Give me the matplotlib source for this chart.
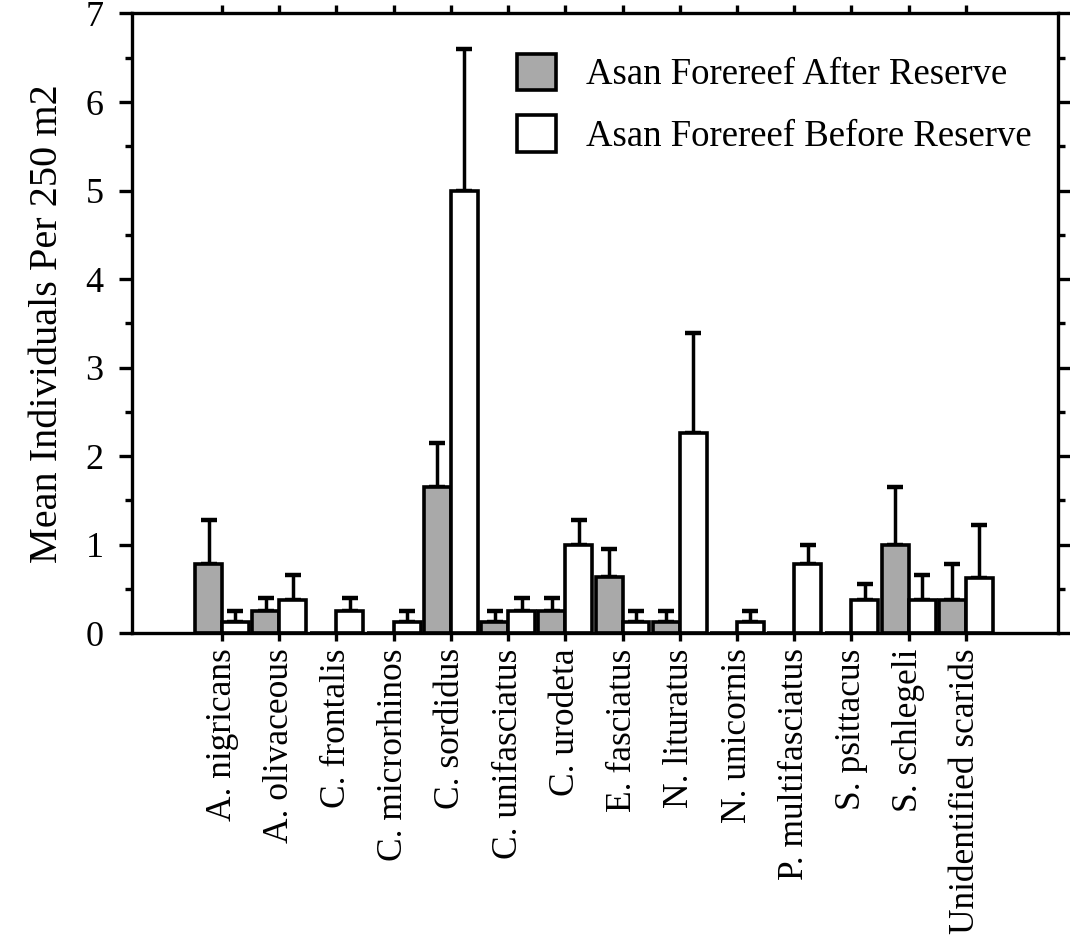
import matplotlib
matplotlib.use("Agg")
import matplotlib.pyplot as plt
import matplotlib.transforms as mtransforms
from matplotlib.patches import Patch
import numpy as np

species = ["A. nigricans", "A. olivaceous", "C. frontalis", "C. microrhinos",
           "C. sordidus", "C. unifasciatus", "C. urodeta", "E. fasciatus",
           "N. lituratus", "N. unicornis", "P. multifasciatus", "S. psittacus",
           "S. schlegeli", "Unidentified scarids"]

after_mean = [0.78, 0.25, 0.0, 0.0, 1.65, 0.125, 0.25, 0.63, 0.125, 0.0, 0.0, 0.0, 1.0, 0.375]
after_err = [0.50, 0.15, 0.0, 0.0, 0.50, 0.125, 0.15, 0.32, 0.125, 0.0, 0.0, 0.0, 0.65, 0.40]

before_mean = [0.125, 0.375, 0.25, 0.125, 5.0, 0.25, 1.0, 0.125, 2.26, 0.125, 0.78, 0.375, 0.375, 0.625]
before_err = [0.125, 0.28, 0.15, 0.125, 1.6, 0.15, 0.28, 0.125, 1.13, 0.125, 0.21, 0.18, 0.28, 0.60]

labels = ["Asan Forereef After Reserve", "Asan Forereef Before Reserve"]

plt.rcParams["font.family"] = ["Liberation Serif", "DejaVu Serif"]

fig = plt.figure(figsize=(10.70, 9.44), dpi=100)
ax = fig.add_axes([0.1234, 0.3294, 0.8654, 0.6563])

x = np.arange(len(species))
w = 0.47
lw = 2.6
gray = "#a9a9a9"

ax.bar(x - w, after_mean, width=w, align="edge", color=gray,
       edgecolor="black", linewidth=lw, zorder=2)
ax.bar(x, before_mean, width=w, align="edge", color="white",
       edgecolor="black", linewidth=lw, zorder=2)

err_kw = dict(fmt="none", ecolor="black", elinewidth=2.5, capsize=5.5,
              capthick=3.2, zorder=1)
a_m = np.array(after_mean)
a_e = np.array(after_err)
mask_a = a_m > 0
ax.errorbar((x - w / 2)[mask_a], a_m[mask_a],
            yerr=[np.zeros(mask_a.sum()), a_e[mask_a]], **err_kw)
b_m = np.array(before_mean)
b_e = np.array(before_err)
ax.errorbar(x + w / 2, b_m, yerr=[np.zeros(len(b_m)), b_e], **err_kw)

ax.set_xlim(-1.573, 14.61)
ax.set_ylim(0, 7)

for s in ax.spines.values():
    s.set_linewidth(2.4)

ax.set_xticks(x)
ax.set_xticklabels(species, rotation=90, fontsize=25.5, va="top", ha="center")
shift = mtransforms.ScaledTranslation(4 / 100, 0, fig.dpi_scale_trans)
for lab in ax.get_xticklabels():
    lab.set_transform(lab.get_transform() + shift)

ax.set_yticks(np.arange(0, 8, 1))
ax.set_yticks(np.arange(0.5, 7, 1), minor=True)
ax.tick_params(axis="y", which="major", direction="out", length=9.5, width=2.4,
               labelsize=26, pad=11, left=True, right=True)
ax.tick_params(axis="y", which="minor", direction="out", length=5, width=2.4,
               left=True, right=True)
ax.tick_params(axis="x", which="major", direction="out", length=6, width=2.4,
               pad=5, top=True, bottom=True)

ax.set_ylabel("Mean Individuals Per 250 m2", fontsize=29, labelpad=14)

handles = [Patch(facecolor=gray, edgecolor="black", linewidth=lw),
           Patch(facecolor="white", edgecolor="black", linewidth=lw)]
ax.legend(handles, labels, loc="upper left", bbox_to_anchor=(0.416, 0.935),
          frameon=False, fontsize=26.5, handlelength=1.06, handleheight=1.14,
          handletextpad=0.8, labelspacing=0.62, borderpad=0, borderaxespad=0)

fig.savefig("out.png", dpi=100)
